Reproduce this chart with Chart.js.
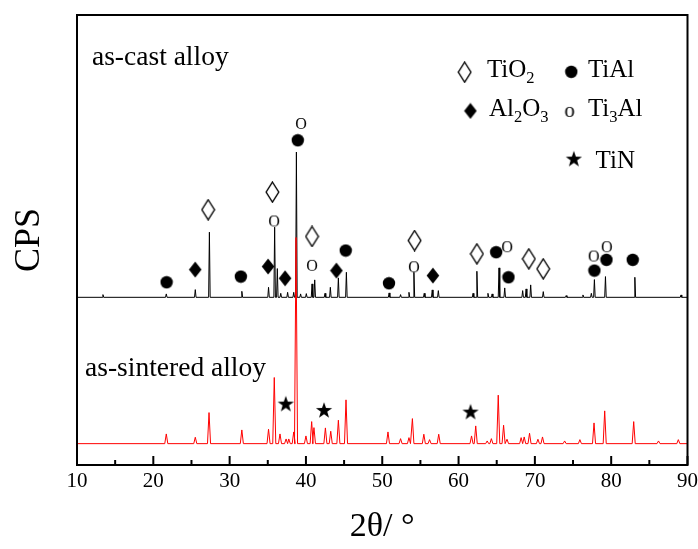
<!DOCTYPE html>
<html>
<head>
<meta charset="utf-8">
<script src="https://cdn.jsdelivr.net/npm/chart.js@4.4.1/dist/chart.umd.min.js"></script>
<style>
    body { margin: 0; background: #fff; }
</style>
</head>
<body>
<canvas id="xrd" width="698" height="549"></canvas>
<script>
var serif = "'Liberation Serif', 'Times New Roman', serif";

// as-cast alloy (black trace), peak angles and peak CPS
var castBase = 1673;
var castAngle = [13.4, 21.7, 25.5, 27.35, 31.6, 35.1, 35.9, 36.25, 36.7, 37.6, 38.4, 38.75, 39.3, 40.05, 40.8, 41.15,
    42.5, 43.2, 44.25, 45.3, 50.9, 52.4, 53.5, 54.15, 55.5, 56.55, 57.35, 61.9, 62.4, 63.85, 64.4, 65.3, 66.05,
    68.4, 68.85, 69.45, 71.1, 74.1, 76.3, 77.4, 77.8, 79.25, 83.1, 89.15
];
var castCps = [1700, 1707, 1750, 2323, 1733, 1773, 2373, 1960, 1713, 1723, 1723, 3123, 1707, 1710, 1807, 1847,
    1713, 1773, 1867, 1923, 1717, 1700, 1723, 1923, 1713, 1747, 1740, 1713, 1933, 1713, 1707, 1967, 1767,
    1740, 1757, 1797, 1730, 1690, 1697, 1713, 1850, 1880, 1873, 1697
];

// as-sintered alloy (red trace)
var sinterBase = 213;
var sinterAngle = [21.7, 25.5, 27.3, 31.6, 35.1, 35.85, 36.6, 37.4, 37.75, 38.4, 38.7, 40.0, 40.75, 41.05, 42.55,
    43.25, 44.25, 45.25, 50.75, 52.4, 53.5, 53.95, 55.45, 56.2, 57.4, 61.7, 62.25, 63.75, 64.3, 65.2, 65.9, 66.35,
    68.2, 68.6, 69.3, 70.4, 71.0, 73.9, 75.9, 77.75, 79.15, 82.95, 86.2, 88.8
];
var sinterCps = [310, 277, 523, 350, 357, 873, 310, 260, 260, 330, 2270, 290, 433, 373, 370,
    337, 447, 650, 330, 263, 273, 463, 307, 253, 307, 290, 390, 240, 263, 697, 397, 257,
    273, 280, 317, 257, 280, 240, 253, 420, 540, 433, 240, 253
];

// phase markers
var tio2Angle = [27.19, 35.61, 40.80, 54.24, 62.40, 69.21, 71.09];
var tio2Cps = [2547, 2723, 2280, 2240, 2107, 2057, 1957];
var tialAngle = [21.74, 31.47, 38.93, 45.21, 50.88, 64.93, 66.54, 77.80, 79.38, 82.82];
var tialCps = [1823, 1880, 3240, 2140, 1813, 2123, 1873, 1940, 2047, 2047];
var al2o3Angle = [25.49, 35.04, 37.27, 43.99, 56.64];
var al2o3Cps = [1950, 1980, 1863, 1940, 1890];
var ti3alAngle = [35.83, 39.36, 40.80, 54.15, 66.37, 77.71, 79.42];
var ti3alCps = [2440, 3413, 1997, 1983, 2183, 2090, 2183];
var tinAngle = [37.36, 42.37, 61.57];
var tinCps = [613, 550, 533];

var xTicks = [10, 20, 30, 40, 50, 60, 70, 80, 90];

function trace(angles, cps, base, w) {
    var pts = [{x: 10, y: base}];
    angles.forEach(function(a, i) {
        pts.push({x: a - w, y: base});
        pts.push({x: a, y: cps[i]});
        pts.push({x: a + w, y: base});
    });
    pts.push({x: 90, y: base});
    return pts;
}

function pairs(xs, ys) {
    return xs.map(function(x, i) { return {x: x, y: ys[i]}; });
}

function sprite(w, h, draw) {
    var c = document.createElement('canvas');
    c.width = w;
    c.height = h;
    var g = c.getContext('2d');
    g.fillStyle = '#000';
    g.strokeStyle = '#000';
    draw(g);
    return c;
}

var openDiamond = sprite(15, 22, function(g) {
    g.lineWidth = 1.4;
    g.beginPath();
    g.moveTo(7.5, 1); g.lineTo(13.8, 11); g.lineTo(7.5, 21); g.lineTo(1.2, 11);
    g.closePath();
    g.stroke();
});
var fillDiamond = sprite(14, 17, function(g) {
    g.beginPath();
    g.moveTo(7, 0.5); g.lineTo(13.3, 8.5); g.lineTo(7, 16.5); g.lineTo(0.7, 8.5);
    g.closePath();
    g.fill();
});
var fillCircle = sprite(14, 14, function(g) {
    g.beginPath();
    g.arc(7, 7, 6.2, 0, Math.PI * 2);
    g.fill();
});
var openO = sprite(14, 14, function(g) {
    g.font = '16px ' + serif;
    g.textAlign = 'center';
    g.textBaseline = 'alphabetic';
    g.fillText('O', 7, 12.5);
});
var smallO = sprite(14, 14, function(g) {
    g.font = '21px ' + serif;
    g.textAlign = 'center';
    g.textBaseline = 'alphabetic';
    g.fillText('o', 7, 11.5);
});
var star = sprite(18, 18, function(g) {
    g.beginPath();
    for (var i = 0; i < 10; i++) {
        var r = i % 2 === 0 ? 8.5 : 3.4;
        var a = -Math.PI / 2 + i * Math.PI / 5;
        g.lineTo(9 + r * Math.cos(a), 9.8 + r * Math.sin(a));
    }
    g.closePath();
    g.fill();
});

function markerSet(label, xs, ys, style) {
    return {
        type: 'scatter',
        label: label,
        data: pairs(xs, ys),
        pointStyle: style,
        pointRadius: 6,
        order: 0
    };
}

// legend and labels, placed through the scales
var legendItems = [
    {sym: openDiamond, sx: 60.80, sy: 3920, tx: 63.72, ty: 3873, parts: [['TiO', 0], ['2', 1]]},
    {sym: fillCircle, sx: 74.77, sy: 3923, tx: 76.95, ty: 3873, parts: [['TiAl', 0]]},
    {sym: fillDiamond, sx: 61.55, sy: 3533, tx: 63.98, ty: 3480, parts: [['Al', 0], ['2', 1], ['O', 0], ['3', 1]]},
    {sym: smallO, sx: 74.55, sy: 3523, tx: 76.95, ty: 3480, parts: [['Ti', 0], ['3', 1], ['Al', 0]]},
    {sym: star, sx: 75.11, sy: 3057, tx: 77.96, ty: 2960, parts: [['TiN', 0]]}
];
var sampleLabels = [
    {text: 'as-cast alloy', x: 11.96, y: 3990},
    {text: 'as-sintered alloy', x: 11.05, y: 890}
];

var decor = {
    id: 'decor',
    afterDatasetsDraw: function(chart) {
        var ctx = chart.ctx;
        var xs = chart.scales.x, ys = chart.scales.y;
        var area = chart.chartArea;
        ctx.save();
        ctx.fillStyle = '#000';
        ctx.textBaseline = 'alphabetic';
        ctx.textAlign = 'left';

        ctx.font = '27.5px ' + serif;
        sampleLabels.forEach(function(l) {
            ctx.fillText(l.text, xs.getPixelForValue(l.x), ys.getPixelForValue(l.y));
        });

        legendItems.forEach(function(it) {
            var px = xs.getPixelForValue(it.sx), py = ys.getPixelForValue(it.sy);
            ctx.drawImage(it.sym, px - it.sym.width / 2, py - it.sym.height / 2);
            var tx = xs.getPixelForValue(it.tx), ty = ys.getPixelForValue(it.ty);
            it.parts.forEach(function(p) {
                ctx.font = (p[1] ? '16.5px ' : '25px ') + serif;
                ctx.fillText(p[0], tx, ty + (p[1] ? 6 : 0));
                tx += ctx.measureText(p[0]).width;
            });
        });

        // frame
        ctx.strokeStyle = '#000';
        ctx.lineWidth = 2;
        ctx.strokeRect(area.left, area.top, area.right - area.left, area.bottom - area.top);

        // inward ticks, major every 10, minor every 5
        xs.ticks.forEach(function(t) {
            var px = xs.getPixelForValue(t.value);
            var len = t.value % 10 === 0 ? 9 : 5;
            ctx.beginPath();
            ctx.moveTo(px, area.bottom);
            ctx.lineTo(px, area.bottom - len);
            ctx.stroke();
        });
        ctx.restore();
    }
};

var ctx = document.getElementById('xrd').getContext('2d');

var xrdChart = new Chart(ctx, {
    type: 'line',
    data: {
        datasets: [
            markerSet('TiO2', tio2Angle, tio2Cps, openDiamond),
            markerSet('TiAl', tialAngle, tialCps, fillCircle),
            markerSet('Al2O3', al2o3Angle, al2o3Cps, fillDiamond),
            markerSet('Ti3Al', ti3alAngle, ti3alCps, openO),
            markerSet('TiN', tinAngle, tinCps, star),
            {
                label: 'as-sintered alloy',
                data: trace(sinterAngle, sinterCps, sinterBase, 0.2),
                borderColor: '#ff0000',
                borderWidth: 1,
                pointRadius: 0,
                tension: 0,
                order: 1
            },
            {
                label: 'as-cast alloy',
                data: trace(castAngle, castCps, castBase, 0.1),
                borderColor: '#000000',
                borderWidth: 1,
                pointRadius: 0,
                tension: 0,
                order: 2
            }
        ]
    },
    options: {
        responsive: false,
        animation: false,
        layout: {
            padding: {top: 15, right: 0, bottom: 2, left: 0}
        },
        plugins: {
            legend: {display: false},
            tooltip: {enabled: false}
        },
        scales: {
            x: {
                type: 'linear',
                min: 10,
                max: 90,
                grid: {
                    display: true,
                    drawOnChartArea: false,
                    drawTicks: true,
                    tickLength: 4,
                    tickColor: 'rgba(0,0,0,0)'
                },
                border: {display: false},
                ticks: {
                    stepSize: 5,
                    autoSkip: false,
                    maxRotation: 0,
                    padding: 0,
                    color: '#000',
                    font: {family: serif, size: 21},
                    callback: function(value) {
                        return xTicks.indexOf(value) >= 0 ? value : '';
                    }
                },
                title: {
                    display: true,
                    text: '2θ/ °',
                    color: '#000',
                    font: {family: serif, size: 34},
                    padding: {top: 12, bottom: 0}
                }
            },
            y: {
                min: 0,
                max: 4490,
                grid: {display: false, drawTicks: false},
                border: {display: false},
                ticks: {display: false},
                title: {
                    display: true,
                    text: 'CPS',
                    color: '#000',
                    font: {family: serif, size: 36},
                    padding: {top: 8.4, bottom: 25.4}
                }
            }
        }
    },
    plugins: [decor]
});
</script>
</body>
</html>
